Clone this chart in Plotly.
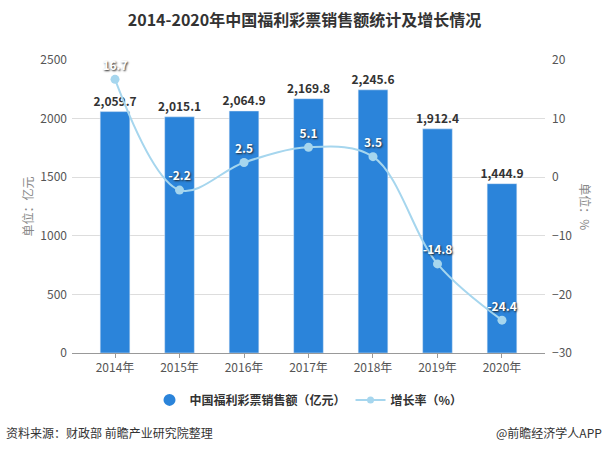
import plotly.graph_objects as go

years = ["2014年", "2015年", "2016年", "2017年", "2018年", "2019年", "2020年"]
sales = [2059.7, 2015.1, 2064.9, 2169.8, 2245.6, 1912.4, 1444.9]
growth = [16.7, -2.2, 2.5, 5.1, 3.5, -14.8, -24.4]

BAR = "#2b84da"
LINE = "#a6d6ee"
FONT = "Noto Sans CJK SC"

fig = go.Figure()
fig.add_trace(go.Bar(
    x=years, y=sales, width=0.46, marker_color=BAR, showlegend=False,
    text=[f"{v:,.1f}" for v in sales], textposition="outside", cliponaxis=False,
    constraintext="none",
    textfont=dict(size=12, color="#333333", family=FONT, weight="bold"),
))
fig.add_trace(go.Scatter(
    x=years, y=growth, yaxis="y2", mode="lines+markers+text",
    line=dict(color=LINE, width=2, shape="spline", smoothing=1.0),
    marker=dict(size=9, color=LINE), showlegend=False,
    text=[f"{v:.1f}" for v in growth], textposition="top center", cliponaxis=False,
    textfont=dict(size=12, color="white", family=FONT, weight="bold",
                  shadow="1px 1px 2px #222"),
))
# legend entries
fig.add_trace(go.Scatter(x=[None], y=[None], mode="markers",
                         marker=dict(symbol="circle", size=12, color=BAR),
                         name="<b>中国福利彩票销售额（亿元）</b>"))
fig.add_trace(go.Scatter(x=[None], y=[None], mode="lines+markers",
                         line=dict(color=LINE, width=2),
                         marker=dict(size=7, color=LINE),
                         name="<b>增长率（%）</b>"))

fig.update_layout(
    width=609, height=455,
    margin=dict(l=72, r=64, t=60, b=102),
    plot_bgcolor="white", paper_bgcolor="white",
    font=dict(family=FONT, size=12, color="#555555"),
    title=dict(text="<b>2014-2020年中国福利彩票销售额统计及增长情况</b>",
               x=0.5, xanchor="center", y=0.955, yanchor="middle",
               font=dict(size=16, color="#333333", family=FONT)),
    xaxis=dict(type="category", range=[-0.667, 6.667], showgrid=False,
               showline=True, linecolor="#999999", ticks="outside",
               ticklen=4, tickcolor="#999999",
               tickfont=dict(size=12, color="#555555")),
    yaxis=dict(range=[0, 2500], dtick=500, showgrid=True, gridcolor="#dddddd",
               zeroline=False, showline=False, ticks="", ticklabelstandoff=4,
               tickfont=dict(size=12, color="#555555")),
    yaxis2=dict(range=[-30, 20], dtick=10, overlaying="y", side="right",
                showgrid=False, zeroline=False, showline=False,
                ticklabelstandoff=6, tickfont=dict(size=12, color="#555555")),
    legend=dict(orientation="h", x=0.5, xanchor="center", y=-0.16, yanchor="middle",
                font=dict(size=12, color="#333333", family=FONT),
                itemwidth=30, tracegroupgap=0),
    showlegend=True,
    annotations=[
        dict(text="单位：亿元", xref="paper", yref="paper", x=-0.095, y=0.5,
             textangle=-90, showarrow=False, xanchor="center", yanchor="middle",
             font=dict(size=12, color="#888888")),
        dict(text="单位：%", xref="paper", yref="paper", x=1.085, y=0.5,
             textangle=90, showarrow=False, xanchor="center", yanchor="middle",
             font=dict(size=12, color="#888888")),
        dict(text="资料来源：财政部 前瞻产业研究院整理", xref="paper", yref="paper",
             x=-0.143, y=-0.273, xanchor="left", yanchor="middle", showarrow=False,
             font=dict(size=12, color="#333333")),
        dict(text="@前瞻经济学人APP", xref="paper", yref="paper",
             x=1.125, y=-0.273, xanchor="right", yanchor="middle", showarrow=False,
             font=dict(size=12, color="#333333")),
    ],
)

fig.write_html("out.html", config={"displayModeBar": False},
               post_script="document.body.style.margin='0';")
